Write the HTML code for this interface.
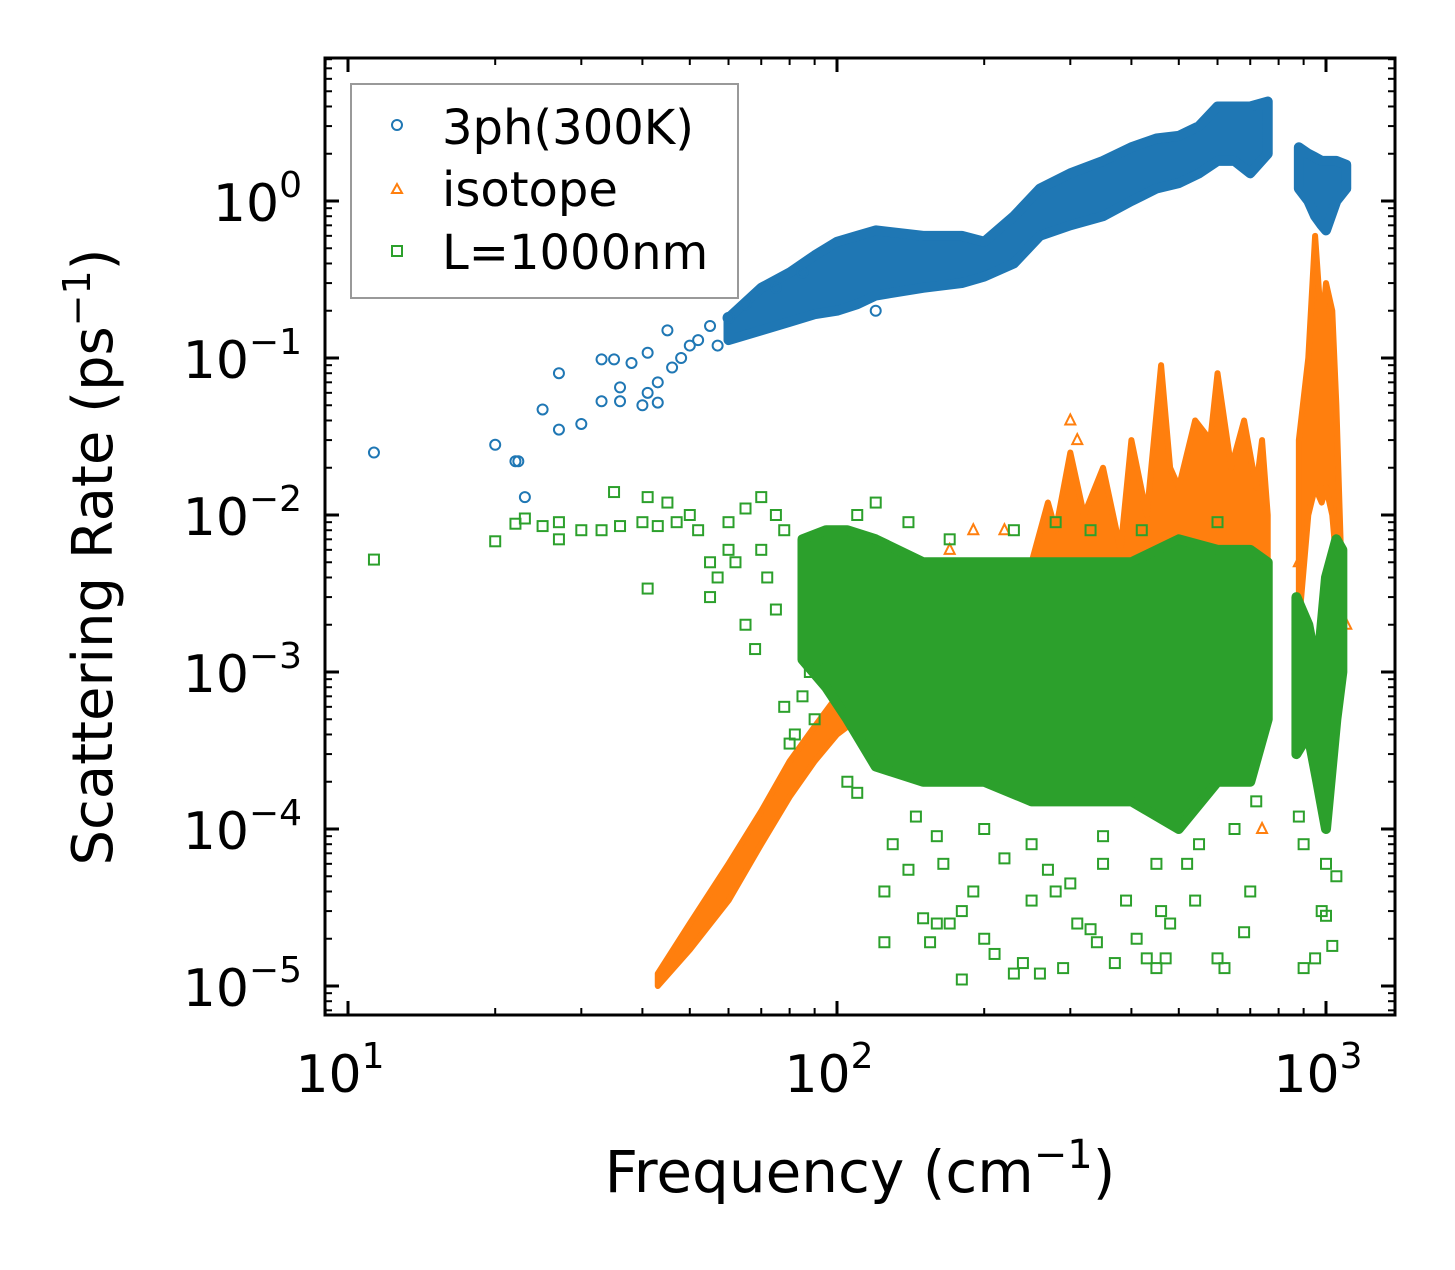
<!DOCTYPE html>
<html><head><meta charset="utf-8"><style>
html,body{margin:0;padding:0;background:#fff;}
svg text{font-family:"DejaVu Sans","Liberation Sans",sans-serif;fill:#000;}
</style></head><body>
<svg id="chart" width="1455" height="1265" viewBox="0 0 1455 1265" xmlns="http://www.w3.org/2000/svg">
<rect x="0" y="0" width="1455" height="1265" fill="#fff"/>
<defs><clipPath id="plotclip"><rect x="325" y="58" width="1070" height="957"/></clipPath></defs>
<g id="bands" clip-path="url(#plotclip)"></g>
<g id="axes"></g>
<text x="860" y="1192" font-size="58" text-anchor="middle">Frequency (cm<tspan dy="-24" font-size="40">−1</tspan><tspan dy="24">)</tspan></text>
<text transform="translate(112,557) rotate(-90)" font-size="56" text-anchor="middle">Scattering Rate (ps<tspan dy="-22" font-size="38">−1</tspan><tspan dy="22">)</tspan></text>
<g>
<rect x="351" y="84" width="387" height="214" fill="#fff" fill-opacity="0.8" stroke="#999" stroke-width="2"/>
<circle cx="397" cy="125" r="5" fill="none" stroke="#1f77b4" stroke-width="2"/>
<text x="442" y="144" font-size="48">3ph(300K)</text>
<polygon points="397,184 392,193 402,193" fill="none" stroke="#ff7f0e" stroke-width="2"/>
<text x="442" y="206" font-size="48">isotope</text>
<rect x="392" y="246" width="10" height="10" fill="none" stroke="#2ca02c" stroke-width="2"/>
<text x="442" y="269" font-size="48">L=1000nm</text>
</g>
</svg>
<script>
// ---- data ----
const blueBandF  = [60,70,80,90,100,110,120,150,180,200,230,260,300,350,400,450,500,550,600,650,700,760];
const blueBandLo = [.13,.15,.17,.19,.2,.22,.25,.28,.3,.33,.4,.6,.7,.8,1.0,1.2,1.3,1.5,1.8,1.8,1.5,2];
const blueBandHi = [.18,.28,.35,.45,.55,.6,.65,.6,.6,.55,.8,1.2,1.5,1.8,2.2,2.5,2.6,3,4,4,4,4.3];
const blueBand2F  = [880,920,950,980,1000,1050,1100];
const blueBand2Lo = [1.2,1.0,.8,.7,.65,1.0,1.2];
const blueBand2Hi = [2.2,2.0,1.9,1.8,1.8,1.8,1.7];
const blueF = [11.3,20,22,22.3,23,25,27,27,30,33,33,35,36,36,38,40,41,41,43,43,45,46,48,50,52,55,57,60,65,75,85,120];
const blueY = [.025,.028,.022,.022,.013,.047,.035,.08,.038,.053,.098,.098,.065,.053,.093,.05,.06,.108,.052,.07,.15,.087,.1,.12,.13,.16,.12,.18,.22,.28,.35,.2];

const orangeBandF  = [43,50,60,70,80,90,100,110,120];
const orangeBandLo = [1e-5,1.7e-5,3.5e-5,8e-5,1.6e-4,2.7e-4,4e-4,5e-4,6e-4];
const orangeBandHi = [1.2e-5,2.5e-5,6e-5,1.3e-4,2.7e-4,4.5e-4,7e-4,1.2e-3,2e-3];
const orangeSpikeF  = [240,250,270,280,300,320,350,380,400,430,460,480,500,540,580,600,640,680,720,740,760];
const orangeSpikeLo = [3e-3,3e-3,3e-3,3e-3,3e-3,3e-3,3e-3,3e-3,3e-3,3e-3,3e-3,3e-3,3e-3,3e-3,3e-3,3e-3,3e-3,3e-3,3e-3,3e-3,3e-3];
const orangeSpikeHi = [4e-3,5e-3,1.2e-2,8e-3,2.5e-2,1e-2,2e-2,6e-3,3e-2,1e-2,9e-2,2e-2,1.5e-2,4e-2,3e-2,8e-2,2e-2,4e-2,1.5e-2,3e-2,1e-2];
const orangeHighF  = [880,920,950,980,1000,1030,1050,1080];
const orangeHighLo = [2e-3,1e-2,1.5e-2,1.2e-2,1.5e-2,1e-2,5e-3,2e-3];
const orangeHighHi = [3e-2,0.1,0.6,0.15,0.3,0.2,0.05,3e-3];
const orangeF = [300,310,740,880,1100,190,220,170];
const orangeY = [4e-2,3e-2,1e-4,5e-3,2e-3,8e-3,8e-3,6e-3];

const greenBandF  = [85,95,105,120,150,200,250,300,400,500,600,700,760];
const greenBandLo = [1.2e-3,8e-4,5e-4,2.5e-4,2e-4,2e-4,1.5e-4,1.5e-4,1.5e-4,1e-4,2e-4,2e-4,5e-4];
const greenBandHi = [7e-3,8e-3,8e-3,7e-3,5e-3,5e-3,5e-3,5e-3,5e-3,7e-3,6e-3,6e-3,5e-3];
const greenBand2F  = [870,920,960,1000,1050,1080];
const greenBand2Lo = [3e-4,4e-4,2e-4,1e-4,5e-4,1e-3];
const greenBand2Hi = [3e-3,2e-3,1e-3,4e-3,7e-3,6e-3];
const greenF = [11.3,20,22,23,25,27,27,30,33,35,36,40,41,41,43,45,47,50,52,55,55,57,60,60,62,65,65,68,70,70,72,75,75,78,78,80,82,85,88,90,95,105,110,120,
 125,125,140,145,150,155,160,165,170,180,180,190,200,210,220,230,240,250,260,270,280,290,300,310,330,340,350,370,390,410,430,450,460,470,480,520,540,600,620,680,700,880,900,950,980,1000,1030,1050,
 130,160,200,250,350,450,550,650,720,900,1000,110,140,170,230,280,330,420,600];
const greenY = [5.2e-3,6.8e-3,8.8e-3,9.5e-3,8.5e-3,7e-3,9e-3,8e-3,8e-3,1.4e-2,8.5e-3,9e-3,3.4e-3,1.3e-2,8.5e-3,1.2e-2,9e-3,1e-2,8e-3,3e-3,5e-3,4e-3,9e-3,6e-3,5e-3,1.1e-2,2e-3,1.4e-3,1.3e-2,6e-3,4e-3,1e-2,2.5e-3,8e-3,6e-4,3.5e-4,4e-4,7e-4,1e-3,5e-4,1.2e-3,2e-4,1.7e-4,1.2e-2,
 1.9e-5,4e-5,5.5e-5,1.2e-4,2.7e-5,1.9e-5,2.5e-5,6e-5,2.5e-5,3e-5,1.1e-5,4e-5,2e-5,1.6e-5,6.5e-5,1.2e-5,1.4e-5,3.5e-5,1.2e-5,5.5e-5,4e-5,1.3e-5,4.5e-5,2.5e-5,2.3e-5,1.9e-5,6e-5,1.4e-5,3.5e-5,2e-5,1.5e-5,1.3e-5,3e-5,1.5e-5,2.5e-5,6e-5,3.5e-5,1.5e-5,1.3e-5,2.2e-5,4e-5,1.2e-4,1.3e-5,1.5e-5,3e-5,2.8e-5,1.8e-5,5e-5,
 8e-5,9e-5,1e-4,8e-5,9e-5,6e-5,8e-5,1e-4,1.5e-4,8e-5,6e-5,1e-2,9e-3,7e-3,8e-3,9e-3,8e-3,8e-3,9e-3];

const xTickVals = [1,2,3];
const yTickVals = [0,-1,-2,-3,-4,-5];

// ---- scales ----
function xs(f){return 348 + 489*(Math.log10(f)-1);}
function ys(v){return 201 - 157*Math.log10(v);}

const NS="http://www.w3.org/2000/svg";
const bands=document.getElementById('bands');
const axes=document.getElementById('axes');
function mk(tag,attrs,parent){const e=document.createElementNS(NS,tag);for(const k in attrs)e.setAttribute(k,attrs[k]);parent.appendChild(e);return e;}

function band(F,Lo,Hi,color,name,sw){
  let pts=[];
  for(let i=0;i<F.length;i++)pts.push(xs(F[i])+','+ys(Hi[i]));
  for(let i=F.length-1;i>=0;i--)pts.push(xs(F[i])+','+ys(Lo[i]));
  const p=mk('polygon',{points:pts.join(' '),fill:color,stroke:color,'stroke-width':sw,'stroke-linejoin':'round'},bands);
  
  
}
function circles(F,Y,color){
  for(let i=0;i<F.length;i++){
    const c=mk('circle',{cx:xs(F[i]),cy:ys(Y[i]),r:5,fill:'none',stroke:color,'stroke-width':2},bands);
    
    
  }
}
function tris(F,Y,color){
  for(let i=0;i<F.length;i++){
    const x=xs(F[i]),y=ys(Y[i]);
    const t=mk('polygon',{points:`${x},${y-6} ${x-5},${y+4} ${x+5},${y+4}`,fill:'none',stroke:color,'stroke-width':2},bands);
    
    
  }
}
function squares(F,Y,color){
  for(let i=0;i<F.length;i++){
    const s=mk('rect',{x:xs(F[i])-5,y:ys(Y[i])-5,width:10,height:10,fill:'none',stroke:color,'stroke-width':2},bands);
    
    
  }
}
const B='#1f77b4',O='#ff7f0e',G='#2ca02c';
band(blueBandF,blueBandLo,blueBandHi,B,'band-3ph-main',10);
band(blueBand2F,blueBand2Lo,blueBand2Hi,B,'band-3ph-high',10);
circles(blueF,blueY,B);
band(orangeBandF,orangeBandLo,orangeBandHi,O,'band-isotope-low',6);
band(orangeSpikeF,orangeSpikeLo,orangeSpikeHi,O,'band-isotope-mid',6);
band(orangeHighF,orangeHighLo,orangeHighHi,O,'band-isotope-high',6);
tris(orangeF,orangeY,O);
band(greenBandF,greenBandLo,greenBandHi,G,'band-boundary-main',10);
band(greenBand2F,greenBand2Lo,greenBand2Hi,G,'band-boundary-high',10);
squares(greenF,greenY,G);

// frame
const fr=mk('rect',{x:325,y:58,width:1070,height:957,fill:'none',stroke:'#000','stroke-width':3},axes);


// x ticks
for(let d=0;d<=3;d++){
  for(let m=1;m<=9;m++){
    const f=Math.pow(10,d)*m; const x=xs(f);
    if(x<325||x>1395)continue;
    const L=m===1?14:7, w=m===1?3:2;
    mk('line',{x1:x,y1:1015,x2:x,y2:1015-L,stroke:'#000','stroke-width':w},axes);
    mk('line',{x1:x,y1:58,x2:x,y2:58+L,stroke:'#000','stroke-width':w},axes);
  }
}
xTickVals.forEach(e=>{
  const t=mk('text',{x:xs(Math.pow(10,e))-8,y:1092,'font-size':52,'text-anchor':'middle'},axes);
  
  
  t.innerHTML='10<tspan dy="-24" font-size="36">'+e+'</tspan>';
});
// y ticks
for(let d=-6;d<=1;d++){
  for(let m=1;m<=9;m++){
    const v=Math.pow(10,d)*m; const y=ys(v);
    if(y<58||y>1015)continue;
    const L=m===1?14:7, w=m===1?3:2;
    mk('line',{x1:325,y1:y,x2:325+L,y2:y,stroke:'#000','stroke-width':w},axes);
    mk('line',{x1:1395,y1:y,x2:1395-L,y2:y,stroke:'#000','stroke-width':w},axes);
  }
}
yTickVals.forEach(e=>{
  const t=mk('text',{x:302,y:ys(Math.pow(10,e))+20,'font-size':52,'text-anchor':'end'},axes);
  
  
  t.innerHTML='10<tspan dy="-24" font-size="36">'+(e<0?'−'+(-e):e)+'</tspan>';
});
</script>
</body></html>
